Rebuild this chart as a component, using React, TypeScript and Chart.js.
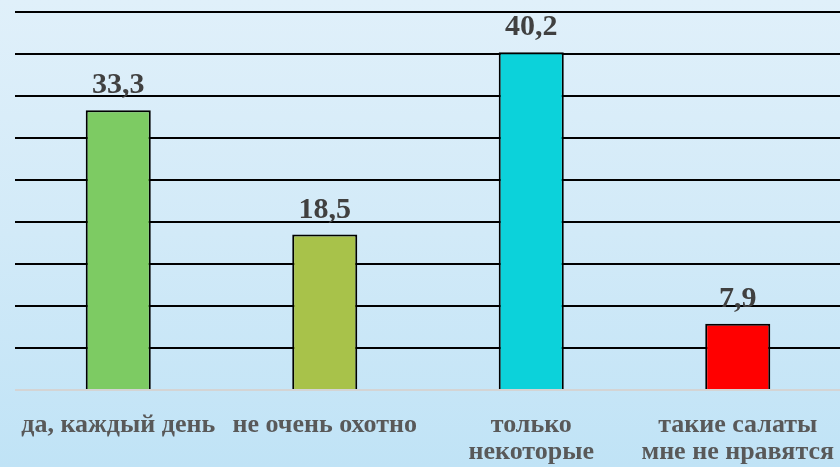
import React, { useEffect, useRef } from "react";
import { Chart, registerables } from "chart.js";

Chart.register(...registerables);

const categories: string[][] = [
  ["да, каждый день"],
  ["не очень охотно"],
  ["только", "некоторые"],
  ["такие салаты", "мне не нравятся"],
];
const values: number[] = [33.3, 18.5, 40.2, 7.9];
const barColors: string[] = ["#7dcb63", "#a8c24a", "#0cd2da", "#ff0000"];
const yMin = 0;
const yMax = 45;
const yStep = 5;

const FONT = "'Liberation Serif', 'Times New Roman', serif";

const valueLabels = {
  id: "valueLabels",
  afterDatasetsDraw(chart: any) {
    const { ctx } = chart;
    const meta = chart.getDatasetMeta(0);
    ctx.save();
    ctx.font = `bold 30px ${FONT}`;
    ctx.fillStyle = "#404040";
    ctx.textAlign = "center";
    ctx.textBaseline = "alphabetic";
    meta.data.forEach((el: any, i: number) => {
      const v = chart.data.datasets[0].data[i] as number;
      const txt = v.toFixed(1).replace(".", ",");
      ctx.fillText(txt, el.x, el.y - 17);
    });
    ctx.restore();
  },
};

export default function App() {
  const ref = useRef<HTMLCanvasElement>(null);
  useEffect(() => {
    document.body.style.margin = "0";
    const chart = new Chart(ref.current!, {
      type: "bar",
      data: {
        labels: categories,
        datasets: [
          {
            data: values,
            backgroundColor: barColors,
            borderColor: "#000000",
            borderWidth: 2,
            borderSkipped: "bottom",
            barPercentage: 0.315,
            categoryPercentage: 1,
          },
        ],
      },
      options: {
        animation: false,
        responsive: false,
        maintainAspectRatio: false,
        layout: { padding: { left: 15, right: 1, top: 12, bottom: 0 } },
        plugins: {
          legend: { display: false },
          tooltip: { enabled: false },
        },
        scales: {
          x: {
            grid: { display: false, drawTicks: false },
            border: { display: false },
            afterFit: (scale: any) => {
              scale.height = 77;
              scale.paddingLeft = 0;
              scale.paddingRight = 0;
            },
            ticks: {
              color: "#595959",
              padding: 22,
              maxRotation: 0,
              autoSkip: false,
              font: { family: FONT, size: 26, weight: "bold", lineHeight: "27px" },
            },
          },
          y: {
            min: yMin,
            max: yMax,
            ticks: { display: false, stepSize: yStep },
            border: { display: false },
            grid: {
              drawTicks: false,
              lineWidth: 2,
              color: (c: any) => (c.tick && c.tick.value === 0 ? "#d4d4d4" : "#000000"),
            },
          },
        },
      },
      plugins: [valueLabels],
    });
    return () => chart.destroy();
  }, []);
  return (
    <div
      style={{
        position: "fixed",
        left: 0,
        top: 0,
        width: 840,
        height: 467,
        overflow: "hidden",
        background: "linear-gradient(to bottom, #e0f0fa 0%, #d2eaf8 50%, #c0e3f6 100%)",
      }}
    >
      <canvas ref={ref} width={842} height={467} style={{ display: "block" }} />
    </div>
  );
}
